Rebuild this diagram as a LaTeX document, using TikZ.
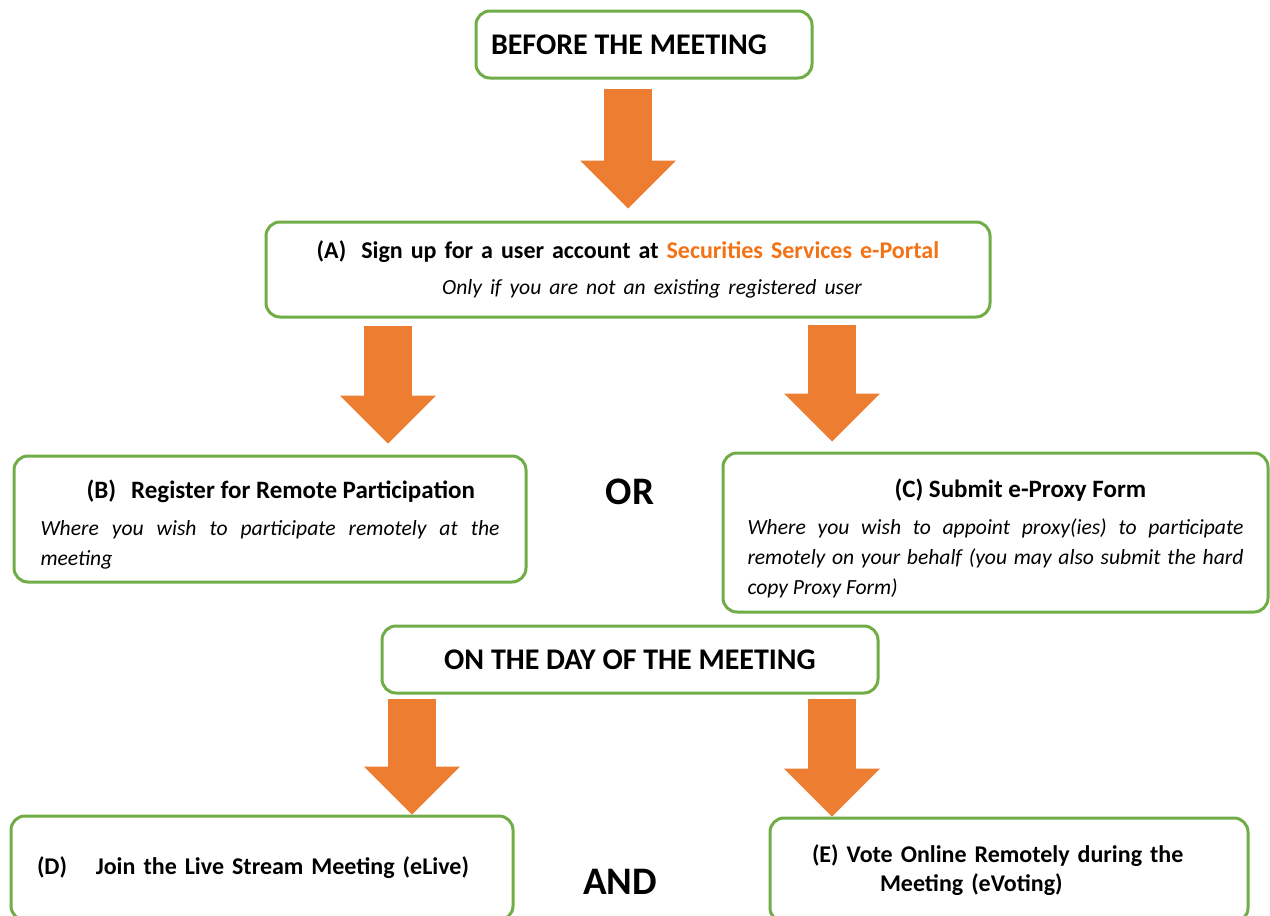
\documentclass[tikz,border=0pt]{standalone}
\usepackage{fontspec}
\setmainfont{Carlito}
\usetikzlibrary{arrows.meta}
\definecolor{boxgreen}{HTML}{70AD47}
\definecolor{arroworange}{HTML}{ED7D31}
\definecolor{portalorange}{HTML}{F47216}
\newcommand{\boxhead}[1]{{\fontsize{12.5}{15}\selectfont\bfseries #1}}
\newcommand{\boxnote}[1]{{\fontsize{10.8}{15}\selectfont\itshape #1}}
\tikzstyle{box} = [rectangle, rounded corners=7pt, draw=boxgreen, line width=1.5pt, fill=white, inner sep=0pt, font=\fontsize{12}{15}\selectfont]
\tikzstyle{head} = [box, minimum width=168pt, minimum height=33.5pt, font=\fontsize{15}{18}\selectfont\bfseries]
\tikzstyle{bigword} = [font=\fontsize{19.5}{23}\selectfont\bfseries, inner sep=0pt]
\tikzstyle{bigarrow} = [draw=arroworange, line width=24pt, -{Triangle[width=48pt, length=24pt, line width=0pt]}]

\begin{document}
\begin{tikzpicture}[x=0.5pt, y=-0.5pt]
\clip (0,0) rectangle (1270,916);
\node (before) [head] at (644,44.5) {BEFORE THE MEETING\hspace*{15pt}\null};
\node (signup) [box, minimum width=362pt, minimum height=47.5pt, text width=340pt, align=center] at (628,269.5) {\textbf{(A)\hspace{7.5pt}Sign up for a user account at \textcolor{portalorange}{Securities Services e-Portal}}\\[3pt]\hspace*{24pt}\boxnote{Only if you are not an existing registered user}};
\node (remote) [box, minimum width=256pt, minimum height=63pt, text width=229.5pt, align=justify] at (270,519) {\rule{0pt}{15pt}\hspace*{23pt}\boxhead{(B)\hspace{7.5pt}Register for Remote Participation}\\[3.5pt]\boxnote{Where you wish to participate remotely at the\linebreak meeting}};
\node (proxy) [box, minimum width=272.5pt, minimum height=79.5pt, text width=248pt, align=justify] at (995.5,532.5) {\rule{0pt}{15pt}\hspace*{73.5pt}\boxhead{(C) Submit e-Proxy Form}\\[3.5pt]\boxnote{Where you wish to appoint proxy(ies) to participate\linebreak remotely on your behalf (you may also submit the hard\linebreak copy Proxy Form)}};
\node (orword) [bigword] at (630,492) {OR};
\node (day) [head, minimum width=248pt] at (630,659.5) {ON THE DAY OF THE MEETING};
\node (live) [box, minimum width=251pt, minimum height=52pt, text width=225pt, align=left, font=\fontsize{12}{15}\selectfont\bfseries] at (262,868) {(D)\hspace{1.2em}Join the Live Stream Meeting (eLive)};
\node (vote) [box, minimum width=239pt, minimum height=52pt, text width=197pt, align=left, font=\fontsize{12}{14.5}\selectfont\bfseries] at (1009,870) {(E) Vote Online Remotely during the\\\hspace*{34pt}Meeting (eVoting)};
\node (andword) [bigword] at (620,882) {AND};

% arrow columns
\coordinate (midcol) at (628,0);
\coordinate (leftcol) at (388,0);
\coordinate (rightcol) at (832,0);
\coordinate (dayleft) at (412,0);

\draw [bigarrow, shorten <=4.5pt, shorten >=6pt] (midcol |- before.south) -- (midcol |- signup.north);
\draw [bigarrow, shorten <=3.5pt, shorten >=5.5pt] (leftcol |- signup.south) -- (leftcol |- remote.north);
\draw [bigarrow, shorten <=3pt, shorten >=5pt] (rightcol |- signup.south) -- (rightcol |- proxy.north);
\draw [bigarrow, shorten <=2pt] (dayleft |- day.south) -- (dayleft |- live.north);
\draw [bigarrow, shorten <=2pt] (rightcol |- day.south) -- (rightcol |- vote.north);
\end{tikzpicture}
\end{document}
